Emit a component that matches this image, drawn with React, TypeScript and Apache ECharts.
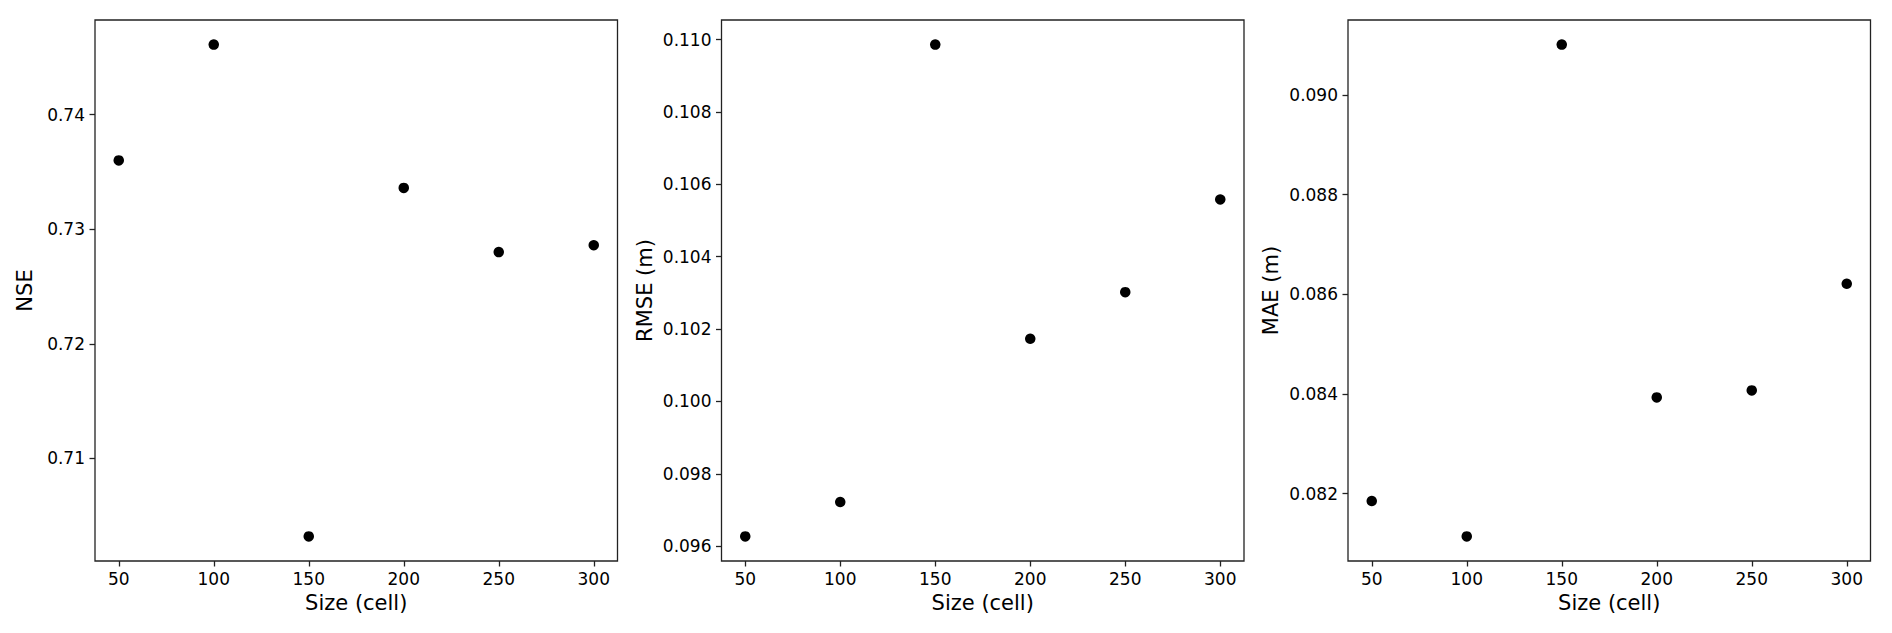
import React, { useEffect, useRef } from "react";
import * as echarts from "echarts";

const sizes = [50, 100, 150, 200, 250, 300];
const nseValues = [0.736, 0.7461, 0.7032, 0.7336, 0.728, 0.7286];
const rmseValues = [0.09627, 0.09722, 0.10986, 0.10173, 0.10302, 0.10558];
const maeValues = [0.08185, 0.08114, 0.09101, 0.08393, 0.08407, 0.08621];

const xTicks = [50, 100, 150, 200, 250, 300];
const nseTicks = [0.71, 0.72, 0.73, 0.74];
const rmseTicks = [0.096, 0.098, 0.1, 0.102, 0.104, 0.106, 0.108, 0.11];
const maeTicks = [0.082, 0.084, 0.086, 0.088, 0.09];

const xLabel = "Size (cell)";
const panels = [
  { name: "NSE", values: nseValues, ticks: nseTicks, digits: 2, left: 95, gap: 60 },
  { name: "RMSE (m)", values: rmseValues, ticks: rmseTicks, digits: 3, left: 721.5, gap: 66 },
  { name: "MAE (m)", values: maeValues, ticks: maeTicks, digits: 3, left: 1348, gap: 67 },
];

const FONT = "DejaVu Sans";
const INK = "#222";

function padRange(vals: number[]) {
  const lo = Math.min(...vals);
  const hi = Math.max(...vals);
  const m = (hi - lo) * 0.05;
  return [lo - m, hi + m];
}

export default function App() {
  const ref = useRef<HTMLDivElement>(null);
  useEffect(() => {
    if (!ref.current) return;
    const chart = echarts.init(ref.current, null, { renderer: "svg" });
    const [xMin, xMax] = padRange(sizes);
    const grids: any[] = [];
    const xAxes: any[] = [];
    const yAxes: any[] = [];
    const series: any[] = [];
    panels.forEach((p, i) => {
      const [yMin, yMax] = padRange(p.values);
      grids.push({
        left: p.left,
        top: 20,
        width: 522.5,
        height: 541,
        show: true,
        borderColor: INK,
        borderWidth: 1.3,
        backgroundColor: "#fff",
      });
      xAxes.push({
        type: "value",
        gridIndex: i,
        min: xMin,
        max: xMax,
        name: xLabel,
        nameLocation: "middle",
        nameGap: 31,
        nameTextStyle: { fontFamily: FONT, fontSize: 21, color: "#000" },
        axisLine: { show: false },
        splitLine: { show: false },
        axisTick: { show: true, inside: false, length: 5.5, lineStyle: { color: INK, width: 1.3 }, customValues: xTicks },
        axisLabel: {
          fontFamily: FONT,
          fontSize: 17,
          color: "#000",
          margin: 9,
          customValues: xTicks,
          formatter: (v: number) => String(v),
        },
      });
      yAxes.push({
        type: "value",
        gridIndex: i,
        min: yMin,
        max: yMax,
        name: p.name,
        nameLocation: "middle",
        nameGap: p.gap,
        nameRotate: 90,
        nameTextStyle: { fontFamily: FONT, fontSize: 21, color: "#000" },
        axisLine: { show: false },
        splitLine: { show: false },
        axisTick: { show: true, inside: false, length: 5.5, lineStyle: { color: INK, width: 1.3 }, customValues: p.ticks },
        axisLabel: {
          fontFamily: FONT,
          fontSize: 17,
          color: "#000",
          margin: 10,
          customValues: p.ticks,
          formatter: (v: number) => v.toFixed(p.digits),
        },
      });
      series.push({
        type: "scatter",
        xAxisIndex: i,
        yAxisIndex: i,
        symbol: "circle",
        symbolSize: 10.5,
        itemStyle: { color: "#000", opacity: 1 },
        data: sizes.map((s, k) => [s, p.values[k]]),
      });
    });
    chart.setOption({
      animation: false,
      backgroundColor: "#fff",
      grid: grids,
      xAxis: xAxes,
      yAxis: yAxes,
      series,
    });
    return () => chart.dispose();
  }, []);
  return (
    <div
      ref={ref}
      style={{ position: "fixed", left: 0, top: 0, width: 1892, height: 633, background: "#fff" }}
    />
  );
}
